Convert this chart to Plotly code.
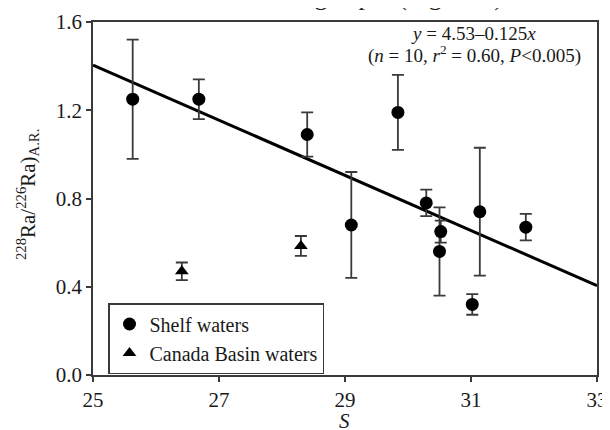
import plotly.graph_objects as go

# Shelf waters
shelf_S = [25.63, 26.68, 28.40, 29.84, 29.10, 30.29, 30.52, 30.50, 31.14, 31.02, 31.87]
shelf_R = [1.25, 1.25, 1.09, 1.19, 0.68, 0.78, 0.65, 0.56, 0.74, 0.32, 0.67]
shelf_err = [0.27, 0.09, 0.10, 0.17, 0.24, 0.06, 0.05, 0.20, 0.29, 0.047, 0.06]

# Canada Basin waters
basin_S = [26.41, 28.30]
basin_R = [0.47, 0.585]
basin_err = [0.04, 0.045]

# Regression
intercept = 4.53
slope = -0.125
fit_S = [25, 33]
fit_R = [intercept + slope * s for s in fit_S]

x_ticks = [25, 27, 29, 31, 33]
y_ticks = [0.0, 0.4, 0.8, 1.2, 1.6]

SERIF = "Liberation Serif, Times New Roman, serif"
LINE = "#3a3a3a"

OFF = 8  # browser body margin
W, H = 610 - OFF, 430 - OFF
L, T = 93 - OFF, 22 - OFF
PW, PH = 504, 353
R = W - L - PW
B = H - T - PH


def px(x):
    """screen x (reference pixels) -> paper x"""
    return (x - OFF - L) / PW


def py(y):
    """screen y (reference pixels) -> paper y"""
    return (T + PH - (y - OFF)) / PH


fig = go.Figure()

fig.add_trace(go.Scatter(
    x=fit_S, y=fit_R, mode="lines",
    line=dict(color="black", width=3),
    showlegend=False, hoverinfo="skip"))

fig.add_trace(go.Scatter(
    x=shelf_S, y=shelf_R, mode="markers", name="Shelf waters",
    marker=dict(symbol="circle", size=13, color="black"),
    error_y=dict(type="data", array=shelf_err, visible=True,
                 color=LINE, thickness=1.8, width=6)))

fig.add_trace(go.Scatter(
    x=basin_S, y=basin_R, mode="markers", name="Canada Basin waters",
    marker=dict(symbol="triangle-up", size=12, color="black"),
    error_y=dict(type="data", array=basin_err, visible=True,
                 color=LINE, thickness=1.8, width=6)))

fig.update_layout(
    width=W, height=H,
    margin=dict(l=L, r=R, t=T, b=B, autoexpand=False),
    paper_bgcolor="white", plot_bgcolor="white",
    font=dict(family=SERIF, size=20, color="#1a1a1a"),
    showlegend=True,
    legend=dict(
        x=px(108), y=py(303), xanchor="left", yanchor="top",
        bgcolor="white", bordercolor=LINE, borderwidth=1.5,
        font=dict(family=SERIF, size=20, color="#1a1a1a"),
        itemwidth=30, tracegroupgap=0,
    ),
    xaxis=dict(
        range=[25, 33], tickvals=x_ticks, ticktext=[str(v) for v in x_ticks],
        showline=True, linecolor=LINE, linewidth=1.8, mirror=True,
        ticks="outside", ticklen=5, tickwidth=1.5, tickcolor=LINE,
        showgrid=False, zeroline=False, automargin=False,
        tickfont=dict(family=SERIF, size=21),
    ),
    yaxis=dict(
        range=[0, 1.6], tickvals=y_ticks, ticktext=[f"{v:.1f}" for v in y_ticks],
        showline=True, linecolor=LINE, linewidth=1.8, mirror=True,
        ticks="outside", ticklen=5, tickwidth=1.5, tickcolor=LINE,
        showgrid=False, zeroline=False, automargin=False,
        tickfont=dict(family=SERIF, size=21),
    ),
)

# axis titles
fig.add_annotation(
    xref="paper", yref="paper", x=px(27), y=py(195),
    xanchor="center", yanchor="middle", showarrow=False, textangle=-90,
    text="<sup>228</sup>Ra/<sup>226</sup>Ra)<sub>A.R.</sub>",
    font=dict(family=SERIF, size=21, color="#1a1a1a"))

fig.add_annotation(
    xref="paper", yref="paper", x=px(344), y=py(421),
    xanchor="center", yanchor="middle", showarrow=False,
    text="<i>S</i>",
    font=dict(family=SERIF, size=21, color="#1a1a1a"))

# regression text
fig.add_annotation(
    xref="paper", yref="paper", x=px(473), y=py(33),
    xanchor="center", yanchor="middle", showarrow=False,
    text="<i>y</i> = 4.53–0.125<i>x</i>",
    font=dict(family=SERIF, size=19, color="#1a1a1a"))

fig.add_annotation(
    xref="paper", yref="paper", x=px(474), y=py(55),
    xanchor="center", yanchor="middle", showarrow=False,
    text="(<i>n</i> = 10, <i>r</i><sup>2</sup> = 0.60, <i>P</i><0.005)",
    font=dict(family=SERIF, size=19, color="#1a1a1a"))

# cut-off paper text at the very top of the image
fig.add_annotation(
    xref="paper", yref="paper", x=px(512), y=py(-4),
    xanchor="right", yanchor="middle", showarrow=False,
    text="decreased with increasing depth (Figure 5).",
    font=dict(family=SERIF, size=26, color="#1a1a1a"))

fig.write_html("out.html")
